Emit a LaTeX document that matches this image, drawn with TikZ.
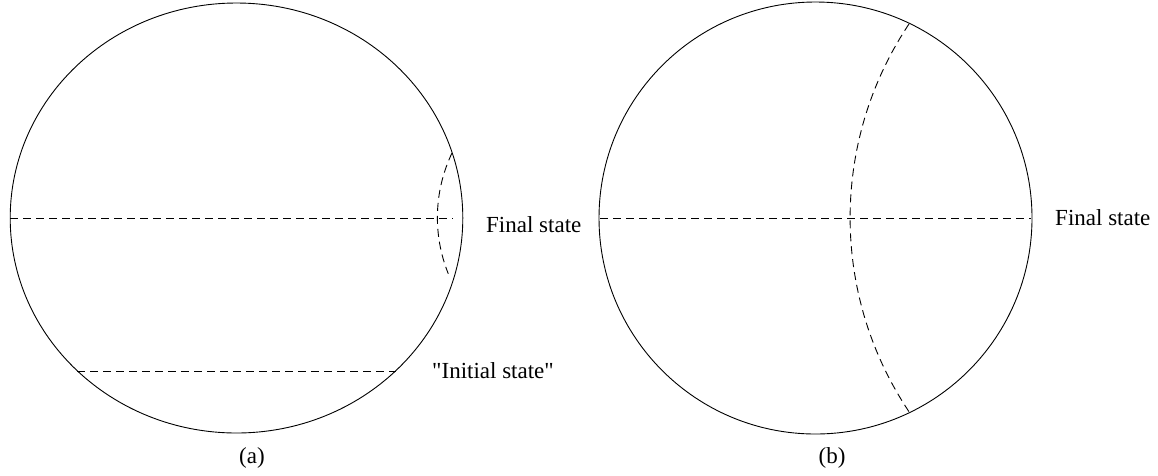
\documentclass[tikz,border=0pt]{standalone}
\usepackage{fontspec}
\setmainfont{Liberation Serif}
\newfontfamily\plainquotes{Liberation Serif}
\begin{document}
\begin{tikzpicture}[x=1pt,y=-1pt,
  outline/.style={draw=black,line width=0.9pt},
  dline/.style={draw=black,line width=0.9pt,dash pattern=on 8pt off 5pt},
  lbl/.style={inner sep=0pt,font=\fontsize{23}{27}\selectfont}]
\useasboundingbox (0,0) rectangle (1158,475);
% (a)
\draw[outline] (236.5,218) ellipse [x radius=226.3, y radius=215];
\coordinate (aL) at (10,218);
\coordinate (aR) at (453,218);
\draw[dline] (aL) -- (aR);
\coordinate (iL) at (77,371);
\coordinate (iR) at (396,371);
\draw[dline] (iL) -- (iR);
\coordinate (aT) at (452,153);
\draw[dline] (aT) arc[start angle=205.5, end angle=158, radius=150];
\node[lbl,anchor=base west] (fa) at (486,232) {Final state};
\node[lbl,anchor=base west] (ia) at (432,378) {\plainquotes "Initial state"};
\node[lbl] (capa) at (252,458) {(a)};
% (b)
\draw[outline] (815.5,218) ellipse [x radius=216.5, y radius=216];
\coordinate (bL) at (600,218);
\coordinate (bR) at (1031,218);
\draw[dline] (bL) -- (bR);
\coordinate (bT) at (909,24);
\draw[dline] (bT) arc[start angle=213.8, end angle=146.2, radius=348.5];
\node[lbl,anchor=base west] (fb) at (1055,225) {Final state};
\node[lbl] (capb) at (832,458) {(b)};
\end{tikzpicture}
\end{document}
